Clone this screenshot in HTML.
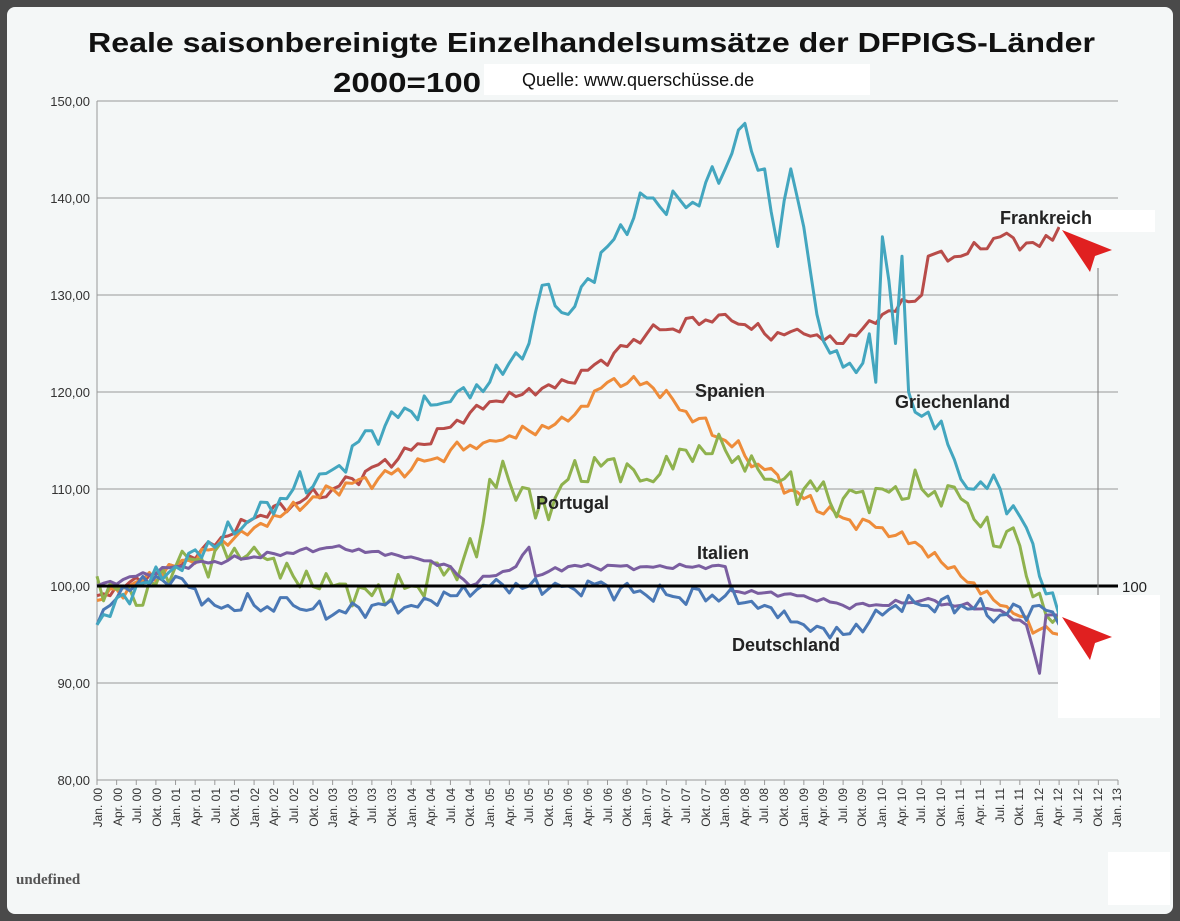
<!DOCTYPE html>
<html><head><meta charset="utf-8"><style>
html,body{margin:0;padding:0;background:#4a4a4a;}
svg{display:block;font-family:"Liberation Sans",sans-serif;}
</style></head><body>
<svg id="s" width="1180" height="921" viewBox="0 0 1180 921">
<rect x="7" y="7" width="1166" height="907" rx="8" fill="#f4f7f7"/>
<g stroke="#999" stroke-width="1">
<line x1="97" y1="101" x2="1118" y2="101"/><line x1="97" y1="198" x2="1118" y2="198"/>
<line x1="97" y1="295" x2="1118" y2="295"/><line x1="97" y1="392" x2="1118" y2="392"/>
<line x1="97" y1="489" x2="1118" y2="489"/><line x1="97" y1="683" x2="1118" y2="683"/>
<line x1="97" y1="780" x2="1118" y2="780"/><line x1="97" y1="101" x2="97" y2="780"/>
</g>
<g font-size="13" fill="#333" text-anchor="end">
<text x="90" y="106">150,00</text><text x="90" y="203">140,00</text><text x="90" y="300">130,00</text>
<text x="90" y="397">120,00</text><text x="90" y="494">110,00</text><text x="90" y="591">100,00</text>
<text x="90" y="688">90,00</text><text x="90" y="785">80,00</text>
</g>
<g id="ticks"></g>
<g id="xl" font-size="12" fill="#333" text-anchor="end">
<text transform="translate(102,788) rotate(-90)">Jan. 00</text><text transform="translate(122,788) rotate(-90)">Apr. 00</text><text transform="translate(141,788) rotate(-90)">Jul. 00</text><text transform="translate(161,788) rotate(-90)">Okt. 00</text>
<text transform="translate(180,788) rotate(-90)">Jan. 01</text><text transform="translate(200,788) rotate(-90)">Apr. 01</text><text transform="translate(220,788) rotate(-90)">Jul. 01</text><text transform="translate(239,788) rotate(-90)">Okt. 01</text>
<text transform="translate(259,788) rotate(-90)">Jan. 02</text><text transform="translate(278,788) rotate(-90)">Apr. 02</text><text transform="translate(298,788) rotate(-90)">Jul. 02</text><text transform="translate(318,788) rotate(-90)">Okt. 02</text>
<text transform="translate(337,788) rotate(-90)">Jan. 03</text><text transform="translate(357,788) rotate(-90)">Apr. 03</text><text transform="translate(376,788) rotate(-90)">Jul. 03</text><text transform="translate(396,788) rotate(-90)">Okt. 03</text>
<text transform="translate(416,788) rotate(-90)">Jan. 04</text><text transform="translate(435,788) rotate(-90)">Apr. 04</text><text transform="translate(455,788) rotate(-90)">Jul. 04</text><text transform="translate(474,788) rotate(-90)">Okt. 04</text>
<text transform="translate(494,788) rotate(-90)">Jan. 05</text><text transform="translate(514,788) rotate(-90)">Apr. 05</text><text transform="translate(533,788) rotate(-90)">Jul. 05</text><text transform="translate(553,788) rotate(-90)">Okt. 05</text>
<text transform="translate(572,788) rotate(-90)">Jan. 06</text><text transform="translate(592,788) rotate(-90)">Apr. 06</text><text transform="translate(612,788) rotate(-90)">Jul. 06</text><text transform="translate(631,788) rotate(-90)">Okt. 06</text>
<text transform="translate(651,788) rotate(-90)">Jan. 07</text><text transform="translate(670,788) rotate(-90)">Apr. 07</text><text transform="translate(690,788) rotate(-90)">Jul. 07</text><text transform="translate(710,788) rotate(-90)">Okt. 07</text>
<text transform="translate(729,788) rotate(-90)">Jan. 08</text><text transform="translate(749,788) rotate(-90)">Apr. 08</text><text transform="translate(768,788) rotate(-90)">Jul. 08</text><text transform="translate(788,788) rotate(-90)">Okt. 08</text>
<text transform="translate(808,788) rotate(-90)">Jan. 09</text><text transform="translate(827,788) rotate(-90)">Apr. 09</text><text transform="translate(847,788) rotate(-90)">Jul. 09</text><text transform="translate(866,788) rotate(-90)">Okt. 09</text>
<text transform="translate(886,788) rotate(-90)">Jan. 10</text><text transform="translate(906,788) rotate(-90)">Apr. 10</text><text transform="translate(925,788) rotate(-90)">Jul. 10</text><text transform="translate(945,788) rotate(-90)">Okt. 10</text>
<text transform="translate(964,788) rotate(-90)">Jan. 11</text><text transform="translate(984,788) rotate(-90)">Apr. 11</text><text transform="translate(1004,788) rotate(-90)">Jul. 11</text><text transform="translate(1023,788) rotate(-90)">Okt. 11</text>
<text transform="translate(1043,788) rotate(-90)">Jan. 12</text><text transform="translate(1062,788) rotate(-90)">Apr. 12</text><text transform="translate(1082,788) rotate(-90)">Jul. 12</text><text transform="translate(1102,788) rotate(-90)">Okt. 12</text>
<text transform="translate(1121,788) rotate(-90)">Jan. 13</text>
</g>
<g id="series" fill="none" stroke-width="3" stroke-linejoin="round"></g>
<line x1="97" y1="586" x2="1118" y2="586" stroke="#000" stroke-width="3"/>
<text x="1122" y="592" font-size="15" fill="#222">100</text>
<line x1="1098" y1="268" x2="1098" y2="640" stroke="#777" stroke-width="1"/>
<rect x="484" y="64" width="386" height="31" fill="#fff"/>
<rect x="1060" y="210" width="95" height="22" fill="#fff"/>
<rect x="1058" y="595" width="102" height="123" fill="#fff"/>
<rect x="1108" y="852" width="62" height="53" fill="#fff"/>
<polygon points="1062,230 1112,250 1095,256 1090,272" fill="#e02020"/>
<polygon points="1062,617 1112,637 1095,643 1090,660" fill="#e02020"/>
<text x="88" y="52" font-size="28" font-weight="bold" fill="#111" textLength="1007" lengthAdjust="spacingAndGlyphs">Reale saisonbereinigte  Einzelhandelsumsätze der DFPIGS-Länder</text>
<text x="333" y="92" font-size="28" font-weight="bold" fill="#111" textLength="148" lengthAdjust="spacingAndGlyphs">2000=100</text>
<text x="522" y="86" font-size="18" fill="#111">Quelle: www.querschüsse.de</text>
<g font-size="18" font-weight="bold" fill="#222">
<text x="1000" y="224">Frankreich</text><text x="695" y="397">Spanien</text>
<text x="895" y="408">Griechenland</text><text x="536" y="509">Portugal</text>
<text x="697" y="559">Italien</text><text x="732" y="651">Deutschland</text>
</g>
<text x="16" y="884" font-size="15" font-weight="bold" fill="#555" font-family="Liberation Serif,serif">undefined</text>
</svg>
<script>
var X=m=>97+m*1021/156, Y=v=>586-(v-100)*9.7;
var t=document.getElementById('ticks'),h='';
for(var m=0;m<=156;m+=3)h+='<line x1="'+X(m)+'" y1="780" x2="'+X(m)+'" y2="785" stroke="#999"/>';
t.innerHTML=h;
function mk(k,col,amp,seed){var o=[];for(var m=0;m<=147;m++){var i=0;while(i<k.length-2&&k[i+1][0]<m)i++;var a=k[i],b=k[i+1];var f=Math.min(1,Math.max(0,(m-a[0])/(b[0]-a[0])));var v=a[1]+(b[1]-a[1])*f;
var n=Math.sin(m*2.3+seed)*0.6+Math.sin(m*5.1+seed*2)*0.4+Math.sin(m*1.3+seed*3)*0.3;
var key=k.some(p=>p[0]==m);v+=key?0:n*amp;o.push(X(m).toFixed(1)+','+Y(v).toFixed(1));}
return '<polyline stroke="'+col+'" points="'+o.join(' ')+'"/>';}
var s='';
s+=mk([[0,99],[12,102],[24,107],[36,110],[48,114],[60,119],[72,121],[84,126],[96,128],[102,126],[108,126],[114,125],[120,128],[126,130],[127,134],[132,134],[138,136],[144,135],[147,137]],'#b84c49',0.7,1);
s+=mk([[0,98.5],[12,102],[24,106],[36,110],[48,112],[54,114],[60,115],[66,116],[72,117],[78,121],[84,121],[90,118],[96,115],[102,112],[108,109],[114,107],[120,106],[126,104],[132,101],[138,98],[144,95.5],[147,95]],'#ee8c3a',0.8,2);
s+=mk([[0,101],[6,98],[12,102],[24,104],[30,101],[36,100],[42,99],[48,100],[54,102],[58,103],[60,111],[66,110],[67,107],[72,111],[78,113],[84,111],[90,114],[96,114],[102,111],[108,110],[114,109],[120,110],[126,110],[132,109],[138,104],[140,106],[142,101],[145,97],[147,97]],'#8fb24e',1.8,3);
s+=mk([[0,100],[12,102],[24,103],[36,104],[48,103],[54,102],[57,100],[60,101],[64,102],[66,104],[67,101],[72,102],[84,102],[96,102],[97,99.5],[108,99],[114,98],[120,98],[126,98.5],[132,98],[138,97.5],[142,96],[144,91],[145,97],[147,97]],'#7a5ea0',0.3,4);
s+=mk([[0,96],[4,100],[12,101],[18,98],[24,98],[30,98],[36,97],[42,98],[48,98],[54,99],[60,100],[66,100],[72,100],[78,100],[84,99],[96,99],[102,98],[108,96],[114,95],[120,97],[122,98],[126,98],[132,98],[138,97],[144,98],[147,96]],'#4a78b5',1.0,5);
s+=mk([[0,96],[6,100],[12,102],[24,107],[30,110],[36,112],[42,116],[48,118],[54,119],[60,121],[66,125],[68,131],[72,128],[78,135],[84,140],[90,139],[96,143],[98,147],[102,143],[104,135],[106,143],[108,137],[110,128],[112,124],[116,122],[118,126],[119,121],[120,136],[122,125],[123,134],[124,120],[126,117.5],[129,117],[132,111],[138,110],[142,106],[144,101],[147,97]],'#43a6bf',1.4,6);
document.getElementById('series').innerHTML=s;
</script>
</body></html>
